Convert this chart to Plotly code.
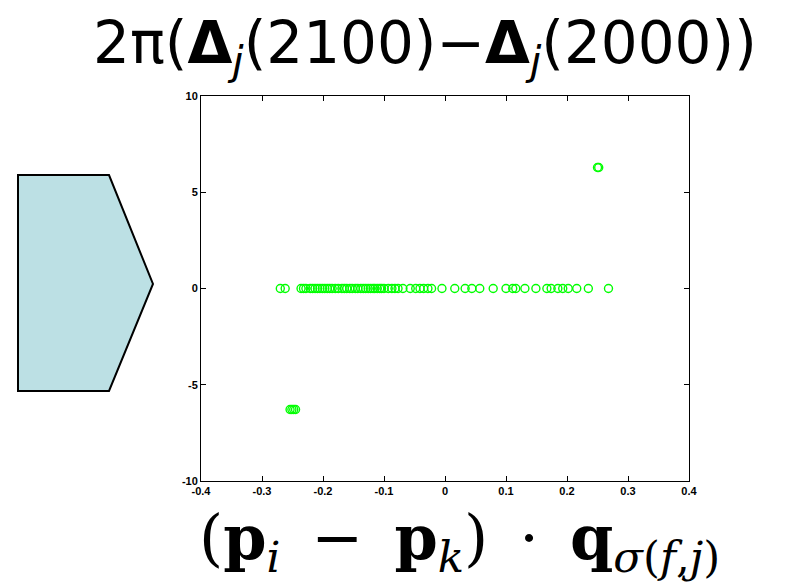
import plotly.graph_objects as go

# ---- data ----
x_zero = [-0.270, -0.262,
          -0.236, -0.232, -0.228, -0.221, -0.217, -0.213, -0.209, -0.205,
          -0.201, -0.197, -0.193, -0.189, -0.185, -0.180, -0.175, -0.169,
          -0.165, -0.161, -0.156, -0.152, -0.147, -0.143, -0.138, -0.134,
          -0.130, -0.126, -0.122, -0.118, -0.115, -0.111, -0.107, -0.104,
          -0.100, -0.093, -0.087, -0.082, -0.077, -0.069, -0.057, -0.048,
          -0.041, -0.035, -0.028, -0.022, -0.005, 0.016, 0.033, 0.044,
          0.057, 0.079, 0.100, 0.111, 0.116, 0.131, 0.149, 0.167, 0.174,
          0.185, 0.193, 0.202, 0.216, 0.235, 0.268]
y_zero = [0.0] * len(x_zero)

x_low = [-0.254, -0.251, -0.248, -0.245]
y_low = [-6.283, -6.283, -6.283, -6.283]

x_high = [0.250, 0.252]
y_high = [6.283, 6.283]

x_ticks = [-0.4, -0.3, -0.2, -0.1, 0, 0.1, 0.2, 0.3, 0.4]
x_tick_labels = ["-0.4", "-0.3", "-0.2", "-0.1", "0", "0.1", "0.2", "0.3", "0.4"]
y_ticks = [-10, -5, 0, 5, 10]
y_tick_labels = ["-10", "-5", "0", "5", "10"]

title_text = "2π(<b>Δ</b><sub><i>j</i></sub>(2100)−<b>Δ</b><sub><i>j</i></sub>(2000))"
xlabel_text = ("(<b>p</b><sub><i>i</i></sub>\u2002−\u2002<b>p</b><sub><i>k</i></sub>)"
               "\u2002·\u2002<b>q</b><sub><i>σ</i>(<i>f</i>,<i>j</i>)</sub>")

xs = x_zero + x_low + x_high
ys = y_zero + y_low + y_high

OFF = 8  # page offset of the figure inside the browser window
W, H = 809, 588
L, T = 201 - OFF, 96 - OFF
PW, PH = 488, 385
R, B = W - L - PW, H - T - PH

fig = go.Figure()
fig.add_trace(go.Scatter(
    x=xs, y=ys, mode="markers",
    marker=dict(symbol="circle-open", size=8, color="rgb(0,255,0)",
                line=dict(width=1.4, color="rgb(0,255,0)")),
    showlegend=False, hoverinfo="skip"))

axis_common = dict(showgrid=False, zeroline=False, showline=True,
                   linecolor="black", linewidth=1, mirror="ticks",
                   ticks="inside", ticklen=5, tickcolor="black",
                   tickfont=dict(family="Liberation Sans", size=11,
                                 color="black", weight="bold"))

fig.update_xaxes(range=[-0.4, 0.4], tickvals=x_ticks, ticktext=x_tick_labels,
                 **axis_common)
fig.update_yaxes(range=[-10, 10], tickvals=y_ticks, ticktext=y_tick_labels,
                 **axis_common)

def px_x(p):
    return (p - OFF - L) / PW

def px_y(p):
    return (T + PH - (p - OFF)) / PH

# pentagon decoration
pts = [(18, 175), (109, 175), (153, 284), (109, 391), (18, 391)]
path = "M " + " L ".join(f"{px_x(a):.4f},{px_y(b):.4f}" for a, b in pts) + " Z"
fig.add_shape(type="path", path=path, xref="paper", yref="paper",
              fillcolor="rgb(188,224,228)", line=dict(color="black", width=2),
              layer="below")

fig.add_annotation(text=title_text, xref="paper", yref="paper",
                   x=px_x(425), y=px_y(47), xanchor="center", yanchor="middle",
                   showarrow=False,
                   font=dict(family="DejaVu Sans", size=58, color="black"))
fig.add_annotation(text=xlabel_text, xref="paper", yref="paper",
                   x=px_x(459), y=px_y(541), xanchor="center", yanchor="middle",
                   showarrow=False,
                   font=dict(family="DejaVu Serif", size=62, color="black"))

fig.update_layout(width=W, height=H,
                  margin=dict(l=L, r=R, t=T, b=B, pad=0),
                  paper_bgcolor="white", plot_bgcolor="white")

fig.write_html("out.html")
